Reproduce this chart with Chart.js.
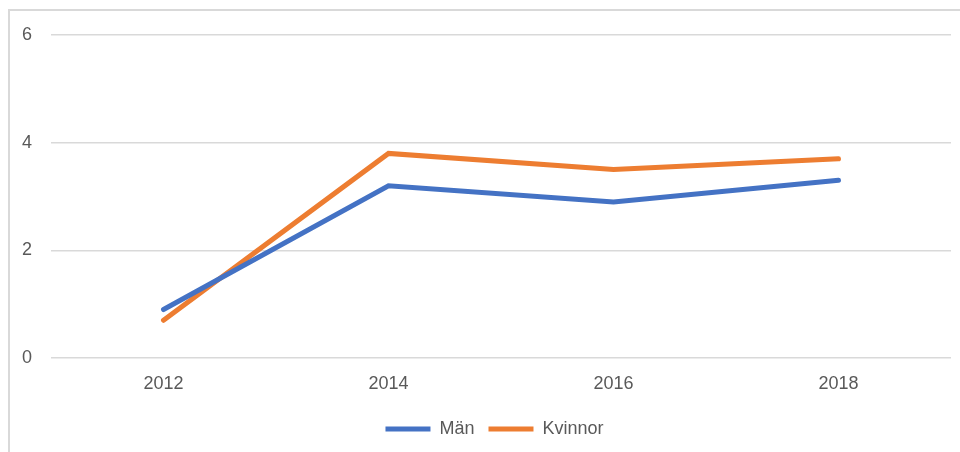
<!DOCTYPE html>
<html>
<head>
<meta charset="utf-8">
<script src="https://cdn.jsdelivr.net/npm/chart.js@4"></script>
<style>
  html, body { margin: 0; padding: 0; background: #fff; }
  #wrap { position: relative; width: 960px; height: 452px; }
  #frame { position: absolute; left: 8px; top: 9px; right: -10px; bottom: -10px;
           border-left: 2px solid #d9d9d9; border-top: 2px solid #d9d9d9; }
  #chart_1 { position: absolute; left: 0; top: 0; }
</style>
</head>
<body>
<div id="wrap">
  <div id="frame"></div>
  <canvas id="chart_1" width="960" height="452"></canvas>
</div>
<script>
const years = ['2012', '2014', '2016', '2018'];
const man = [0.9, 3.2, 2.9, 3.3];
const kvinnor = [0.7, 3.8, 3.5, 3.7];
const yTicks = [0, 2, 4, 6];

const ctx = document.getElementById('chart_1');
const grey = '#595959';
const font = {family: "'Liberation Sans', Arial, sans-serif", size: 18};

// legend in the original sits a bit right of the canvas centre
const legendShift = {
  id: 'legendShift',
  afterLayout(chart) {
    chart.legend.left += 19;
    chart.legend.right += 19;
  }
};

new Chart(ctx, {
  type: 'line',
  data: {
    labels: years,
    datasets: [
      {label: 'Män', data: man, borderColor: '#4472c4', backgroundColor: '#4472c4',
       borderWidth: 5, pointRadius: 0, borderCapStyle: 'round', tension: 0},
      {label: 'Kvinnor', data: kvinnor, borderColor: '#ed7d31', backgroundColor: '#ed7d31',
       borderWidth: 5, pointRadius: 0, borderCapStyle: 'round', tension: 0}
    ]
  },
  plugins: [legendShift],
  options: {
    responsive: false,
    animation: false,
    layout: {padding: {top: 35, right: 9, left: 0, bottom: 4}},
    plugins: {
      legend: {
        position: 'bottom',
        labels: {
          color: grey, font: font, boxWidth: 45, boxHeight: 5, padding: 14,
          generateLabels: (chart) => Chart.defaults.plugins.legend.labels
            .generateLabels(chart).map(l => ({...l, lineWidth: 0}))
        }
      },
      tooltip: {enabled: false}
    },
    scales: {
      x: {
        offset: true,
        grid: {display: false},
        border: {display: false},
        ticks: {color: grey, font: font, padding: 7},
        afterFit: (s) => { s.height = 48; }
      },
      y: {
        min: 0, max: 6,
        afterBuildTicks: (s) => { s.ticks = yTicks.map(v => ({value: v})); },
        grid: {color: '#d9d9d9', lineWidth: 1.5, drawTicks: false},
        border: {display: false},
        ticks: {color: grey, font: font, padding: 19},
        afterFit: (s) => { s.width = 51; }
      }
    }
  }
});
</script>
</body>
</html>
